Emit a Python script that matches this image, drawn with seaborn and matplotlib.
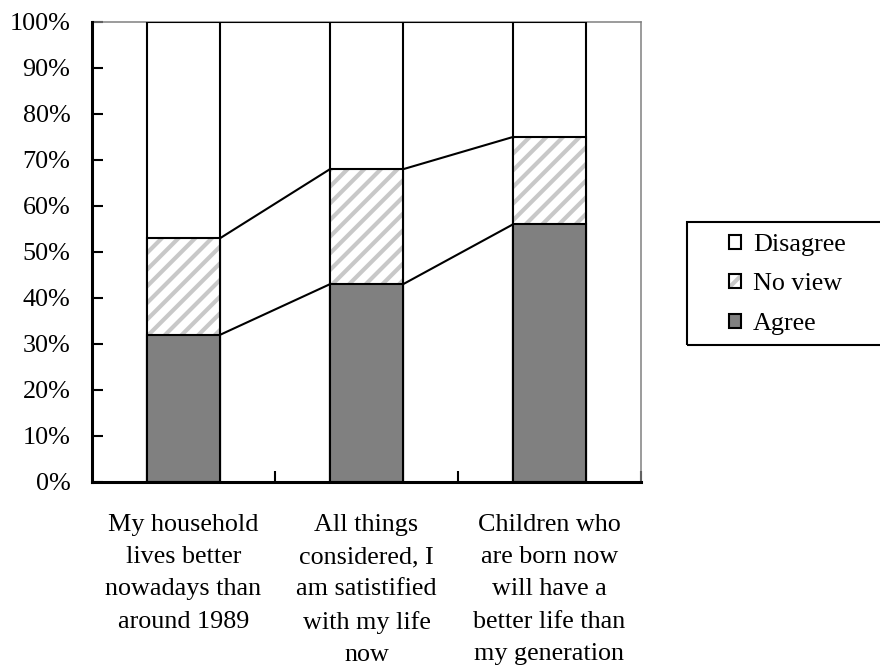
import matplotlib
matplotlib.use("Agg")
import matplotlib.pyplot as plt
from matplotlib.patches import Patch, Rectangle
from matplotlib.legend_handler import HandlerTuple
import seaborn as sns
import pandas as pd

categories = [
    "My household\nlives better\nnowadays than\naround 1989",
    "All things\nconsidered, I\nam satistified\nwith my life\nnow",
    "Children who\nare born now\nwill have a\nbetter life than\nmy generation",
]
agree = [32, 43, 56]
no_view = [21, 25, 19]
disagree = [47, 32, 25]
y_ticks = [0, 10, 20, 30, 40, 50, 60, 70, 80, 90, 100]

sns.set_theme(style="white")
plt.rcParams["font.family"] = ["Liberation Serif", "DejaVu Serif"]
plt.rcParams["hatch.linewidth"] = 3.0
plt.rcParams["text.color"] = "black"
plt.rcParams["xtick.color"] = "black"
plt.rcParams["ytick.color"] = "black"
plt.rcParams["xtick.labelcolor"] = "black"
plt.rcParams["ytick.labelcolor"] = "black"

HATCH_GREY = "#c8c8c8"
AGREE_GREY = "#808080"
W = 0.4
FS = 18.8
LW = 1.5

df = pd.DataFrame({"cat": categories, "agree": agree, "no_view": no_view, "disagree": disagree})
df["top_agree"] = df["agree"]
df["top_noview"] = df["agree"] + df["no_view"]
df["top_all"] = df["top_noview"] + df["disagree"]

fig = plt.figure(figsize=(8.8, 6.72), dpi=100)
ax = fig.add_axes([92 / 880, 1 - 482 / 672, 549 / 880, 460 / 672])

# Disagree (full stack)
sns.barplot(data=df, x="cat", y="top_all", color="white", edgecolor="black",
            linewidth=LW, width=W, saturation=1, ax=ax, zorder=2)
# No view: light grey hatch, then a black outline over it
sns.barplot(data=df, x="cat", y="top_noview", color="white", edgecolor=HATCH_GREY,
            hatch="//", linewidth=0, width=W, saturation=1, ax=ax, zorder=3)
sns.barplot(data=df, x="cat", y="top_noview", fill=False, edgecolor="black",
            linewidth=LW, width=W, saturation=1, ax=ax, zorder=4)
# Agree
sns.barplot(data=df, x="cat", y="top_agree", color=AGREE_GREY, edgecolor="black",
            linewidth=LW, width=W, saturation=1, ax=ax, zorder=5)

# Series lines joining the segment tops of neighbouring bars
for col in ["top_agree", "top_noview", "top_all"]:
    vals = df[col].to_numpy()
    for i in range(len(vals) - 1):
        ax.plot([i + W / 2, i + 1 - W / 2], [vals[i], vals[i + 1]],
                color="black", lw=LW, zorder=6, solid_capstyle="butt")

ax.set_xlim(-0.5, len(categories) - 0.5)
ax.set_ylim(0, 100)
ax.set_xlabel("")
ax.set_ylabel("")
ax.set_yticks(y_ticks)
ax.set_yticklabels([f"{v}%" for v in y_ticks], fontsize=FS)
ax.tick_params(axis="y", direction="in", length=8, width=LW, pad=15.5, colors="black", left=True)
ax.set_xticks(range(len(categories)))
ax.set_xticklabels(categories, fontsize=FS, linespacing=1.6)
ax.tick_params(axis="x", which="major", length=0, pad=23, labelcolor="black")
ax.set_xticks([0.5, 1.5, 2.5], minor=True)
ax.tick_params(axis="x", which="minor", direction="in", length=8, width=LW,
               bottom=True, color="black")

for s in ["left", "bottom"]:
    ax.spines[s].set_color("black")
    ax.spines[s].set_linewidth(2.2)
    ax.spines[s].set_zorder(7)
for s in ["top", "right"]:
    ax.spines[s].set_color("#808080")
    ax.spines[s].set_linewidth(1.1)
    ax.spines[s].set_zorder(1)

# Legend
h_dis = Patch(facecolor="white", edgecolor="black", linewidth=LW)
h_nv = (Patch(facecolor="white", edgecolor=HATCH_GREY, hatch="//", linewidth=0),
        Patch(facecolor="none", edgecolor="black", linewidth=LW))
h_ag = Patch(facecolor=AGREE_GREY, edgecolor="black", linewidth=LW)
leg = fig.legend(handles=[h_dis, h_nv, h_ag], labels=["Disagree", "No view", "Agree"],
                 handler_map={tuple: HandlerTuple(ndivide=1, pad=0)},
                 loc="upper left", bbox_to_anchor=(729 / 880, 1 - 234 / 672),
                 frameon=False, fontsize=FS, handlelength=0.46, handleheight=0.46,
                 handletextpad=0.45, labelspacing=0.67, borderpad=0, borderaxespad=0,
                 labelcolor="black")
fig.patches.append(Rectangle((687 / 880, 1 - 345 / 672), 200 / 880, 123 / 672,
                             transform=fig.transFigure, fill=False,
                             edgecolor="black", linewidth=1.5, zorder=0))

fig.savefig("out.png", dpi=100)
